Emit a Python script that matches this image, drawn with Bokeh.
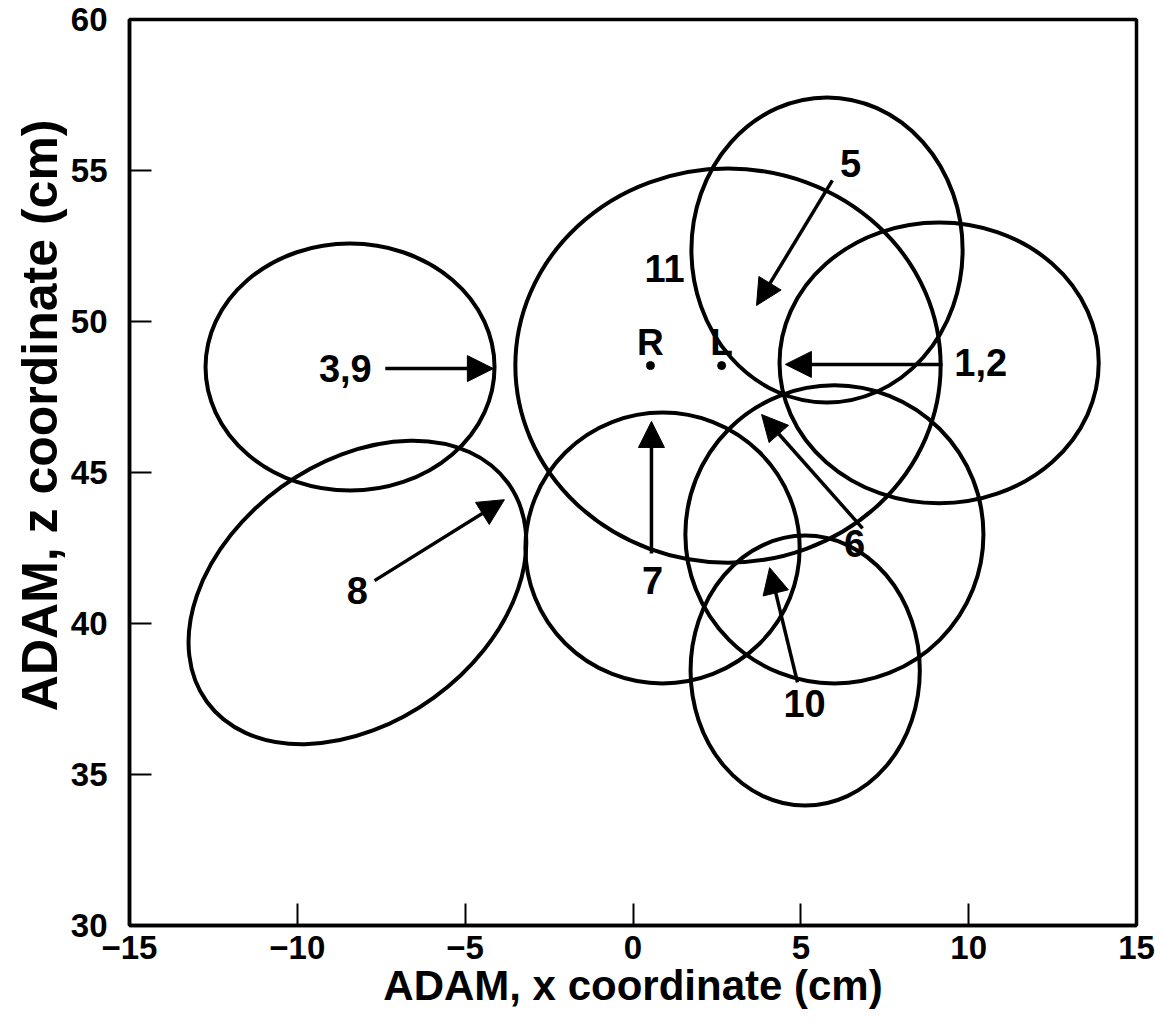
from bokeh.plotting import figure
from bokeh.models import Arrow, NormalHead, ColumnDataSource, FixedTicker, Title
from bokeh.core.properties import value
from bokeh.embed import file_html
from bokeh.resources import INLINE
import math

# Ellipses (confidence regions): centre, width, height (data units), angle (deg)
ell_x = [-8.43, 2.83, 5.78, 9.12, 6.0, 0.88, 5.13, -8.21]
ell_z = [48.49, 48.54, 52.37, 48.63, 42.95, 42.5, 38.44, 41.03]
ell_w = [8.61, 12.67, 8.08, 9.51, 8.88, 8.17, 6.83, 11.09]
ell_h = [8.18, 13.05, 10.1, 9.3, 9.87, 8.97, 8.94, 8.61]
ell_angle_deg = [0, 0, 0, 0, 0, 0, 0, 36]

# Labels
lab_text = ["3,9", "1,2", "5", "6", "7", "8", "10", "11"]
lab_x = [-8.57, 10.36, 6.48, 6.6, 0.58, -8.21, 5.11, 0.94]
lab_z = [48.44, 48.64, 55.23, 42.65, 41.42, 41.09, 37.35, 51.75]

# Arrows: tail -> head
arr_x0 = [-7.38, 9.22, 5.94, 6.84, 0.55, -7.7, 4.9]
arr_z0 = [48.44, 48.58, 54.67, 43.15, 42.32, 41.42, 38.05]
arr_x1 = [-4.16, 4.54, 3.68, 3.83, 0.55, -3.83, 4.07]
arr_z1 = [48.44, 48.58, 50.53, 46.92, 46.69, 44.1, 41.85]

# R / L reference points
pt_text = ["R", "L"]
pt_x = [0.52, 2.64]
pt_z = [48.54, 48.54]
pt_label_z = [49.3, 49.3]

xticks = [-15, -10, -5, 0, 5, 10, 15]
yticks = [30, 35, 40, 45, 50, 55, 60]

FONT = "Liberation Sans"

p = figure(width=1160, height=1024, x_range=(-15, 15), y_range=(30, 60),
           output_backend="svg", toolbar_location=None,
           min_border_left=129, min_border_right=24, min_border_top=19, min_border_bottom=99)
p.xgrid.visible = False
p.ygrid.visible = False
p.outline_line_color = "black"
p.outline_line_width = 3.5
p.background_fill_color = "white"
p.border_fill_color = "white"

for ax in (p.xaxis[0], p.yaxis[0]):
    ax.axis_line_width = 3.5
    ax.axis_line_color = "black"
    ax.major_tick_in = 22
    ax.major_tick_out = 0
    ax.major_tick_line_width = 2
    ax.minor_tick_line_color = None
    ax.major_label_text_font = FONT
    ax.major_label_text_font_style = "bold"
    ax.major_label_text_font_size = "33px"
    ax.major_label_text_color = "black"
    ax.axis_label_text_font = FONT
    ax.axis_label_text_font_style = "bold"
    ax.axis_label_text_color = "black"

p.xaxis.axis_label_text_font_size = "42px"
p.xaxis.ticker = FixedTicker(ticks=xticks)
p.yaxis.ticker = FixedTicker(ticks=yticks)
p.xaxis.major_label_overrides = {t: (("\u2212" + str(abs(t))) if t < 0 else str(t)) for t in xticks}
p.xaxis.axis_label = "ADAM, x coordinate (cm)"
p.xaxis.major_label_standoff = 10
p.yaxis.major_label_standoff = 22
p.xaxis.axis_label_standoff = 0

# y-axis title as a left-side title, placed towards the top as in the reference
p.add_layout(Title(text="ADAM, z coordinate (cm)", align="right", offset=100, standoff=0,
                   text_font=FONT, text_font_style="bold", text_font_size="50px",
                   text_color="black"), "left")

src = ColumnDataSource(dict(x=ell_x, y=ell_z, w=ell_w, h=ell_h,
                            a=[math.radians(d) for d in ell_angle_deg]))
p.ellipse(x="x", y="y", width="w", height="h", angle="a", source=src,
          fill_color=None, line_color="black", line_width=4)

for x0, z0, x1, z1 in zip(arr_x0, arr_z0, arr_x1, arr_z1):
    p.add_layout(Arrow(x_start=x0, y_start=z0, x_end=x1, y_end=z1,
                       line_width=3.5, line_color="black",
                       end=NormalHead(size=26, fill_color="black", fill_alpha=1.0,
                                      line_color="black", line_width=1)))

p.text(x=lab_x, y=lab_z, text=lab_text, text_font=value(FONT), text_font_style="bold",
       text_font_size="38px", text_align="center", text_baseline="middle", text_color="black")

p.text(x=pt_x, y=pt_label_z, text=pt_text, text_font=value(FONT), text_font_style="bold",
       text_font_size="37px", text_align="center", text_baseline="middle", text_color="black")
p.scatter(x=pt_x, y=pt_z, size=8, color="black")

open("out.html", "w").write(file_html(p, INLINE))
